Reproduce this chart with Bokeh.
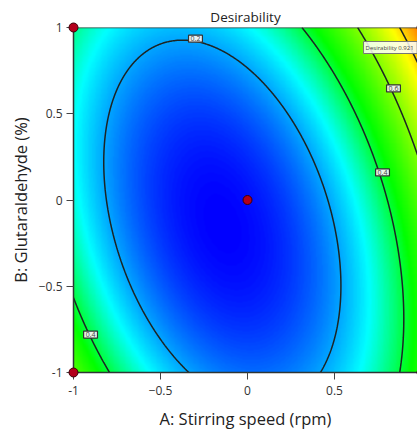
import numpy as np
from bokeh.plotting import figure
from bokeh.models import Label, Span, LinearColorMapper, FixedTicker
from bokeh.embed import file_html
from bokeh.resources import INLINE

# Quadratic desirability model in coded factors A (stirring speed) and B (glutaraldehyde)
b0, bA, bB, bAB, bAA, bBB = 0.0645, 0.1264, 0.0637, 0.1560, 0.362, 0.1481

# Design points (coded)
design_a = [-1, -1, 0, 1, 1]
design_b = [1, -1, 0, 1, -1]

contour_levels = [0.2, 0.4, 0.6, 0.8]
# contour label positions (coded A, B) and their texts
clabel_a = [-0.299, 0.776, 0.839, -0.902]
clabel_b = [0.935, 0.16, 0.647, -0.78]
clabel_txt = ["0.2", "0.4", "0.6", "0.4"]

best_value = 0.921
best_flag_a, best_flag_b = 0.667, 0.884

x_lo, x_hi = -1.0, 0.977
y_lo, y_hi = -1.0, 1.0


def desirability(a, b):
    return b0 + bA * a + bB * b + bAB * a * b + bAA * a * a + bBB * b * b


ga = np.linspace(x_lo, x_hi, 400)
gb = np.linspace(y_lo, y_hi, 400)
GA, GB = np.meshgrid(ga, gb)
D = desirability(GA, GB)

# blue -> cyan -> green -> yellow -> red gradient, stops placed along the desirability scale
lo, hi = float(D.min()), 1.05
stop_vals = [lo, 0.28, 0.44, 0.76, hi]
stop_rgb = np.array([[0, 0, 255], [0, 255, 255], [0, 255, 0], [255, 255, 0], [255, 0, 0]], float)
palette = []
for v in np.linspace(lo, hi, 256):
    rgb = [np.interp(v, stop_vals, stop_rgb[:, k]) for k in range(3)]
    palette.append("#%02x%02x%02x" % tuple(int(round(c)) for c in rgb))
mapper = LinearColorMapper(palette=palette, low=lo, high=hi)

FONT = "Open Sans"
p = figure(width=417, height=435, x_range=(x_lo, x_hi), y_range=(y_lo, y_hi),
           output_backend="svg", toolbar_location=None,
           min_border_left=73, min_border_right=0, min_border_top=27, min_border_bottom=63,
           title="Desirability")
p.title.align = "center"
p.title.text_font = FONT
p.title.text_font_size = "13.5px"
p.title.text_font_style = "normal"
p.title.text_color = "#222222"
p.title.standoff = 3
p.outline_line_color = None
p.grid.visible = False
p.background_fill_color = "white"

p.image(image=[D], x=x_lo, y=y_lo, dw=x_hi - x_lo, dh=y_hi - y_lo, color_mapper=mapper)
p.contour(ga, gb, D, levels=contour_levels, line_color="#1c2424", line_width=1.5, fill_color=None)

for a, b, t in zip(clabel_a, clabel_b, clabel_txt):
    p.add_layout(Label(x=a, y=b, text=t, text_font=FONT, text_font_size="7px", text_color="#444444",
                       text_align="center", text_baseline="middle",
                       background_fill_color="#f4f4f4", background_fill_alpha=0.95,
                       border_line_color="#333333", border_line_width=1.2, padding=(2, 1)))
p.add_layout(Label(x=best_flag_a, y=best_flag_b, text=f"Desirability  {best_value:.3f}",
                   text_font=FONT, text_font_size="6px", text_color="#444444",
                   text_align="left", text_baseline="middle",
                   background_fill_color="white", background_fill_alpha=0.85,
                   border_line_color="#777777", border_line_width=1, padding=2))

p.scatter(design_a, design_b, size=9, fill_color="#b3001b", line_color="#3a0008", line_width=1,
          level="overlay")

p.add_layout(Span(location=y_hi, dimension="width", line_color="#2e3636", line_width=1.5))

for ax in (p.xaxis[0], p.yaxis[0]):
    ax.axis_line_color = "#2e3636"
    ax.axis_line_width = 1.5
    ax.major_tick_line_color = "#444444"
    ax.major_tick_out = 7
    ax.major_tick_in = 0
    ax.minor_tick_line_color = None
    ax.major_label_text_font = FONT
    ax.major_label_text_font_size = "12px"
    ax.major_label_text_color = "#333333"
    ax.axis_label_text_font = FONT
    ax.axis_label_text_font_size = "16.5px"
    ax.axis_label_text_font_style = "normal"
    ax.axis_label_text_color = "#222222"
    ax.ticker = FixedTicker(ticks=[-1, -0.5, 0, 0.5, 1])

p.xaxis.axis_label = "A: Stirring speed (rpm)"
p.yaxis.axis_label = "B: Glutaraldehyde (%)"
p.xaxis.major_label_standoff = 6
p.yaxis.major_label_standoff = 4
p.xaxis.axis_label_standoff = 9
p.yaxis.axis_label_standoff = 4
p.xaxis.major_label_overrides = {-1: "-1", 0: "0", 1: "1"}
p.yaxis.major_label_overrides = {-1: "-1", 0: "0", 1: "1"}

open("out.html", "w").write(file_html(p, INLINE))
